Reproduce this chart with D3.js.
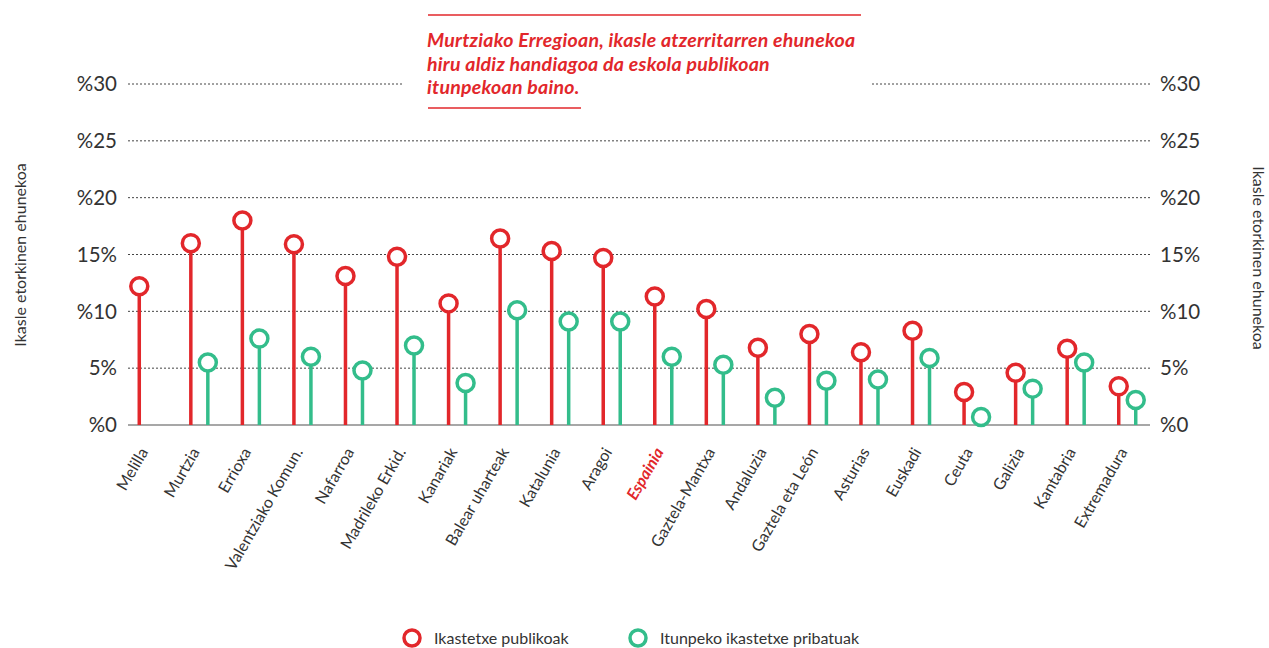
<!DOCTYPE html>
<html>
<head>
<meta charset="utf-8">
<script src="https://cdn.jsdelivr.net/npm/d3@7"></script>
<style>
  body { margin: 0; background: #fff; }
  svg { font-family: Lato, "Open Sans", sans-serif; }
</style>
</head>
<body>
<div id="chart"></div>
<script>
// data
var regions = ["Melilla", "Murtzia", "Errioxa", "Valentziako Komun.", "Nafarroa", "Madrileko Erkid.",
  "Kanariak", "Balear uharteak", "Katalunia", "Aragoi", "Espainia", "Gaztela-Mantxa", "Andaluzia",
  "Gaztela eta León", "Asturias", "Euskadi", "Ceuta", "Galizia", "Kantabria", "Extremadura"]
var publicVals = [12.2, 16.0, 18.0, 15.9, 13.1, 14.8, 10.7, 16.4, 15.3, 14.7, 11.3, 10.2, 6.8, 8.0, 6.4, 8.3, 2.9, 4.6, 6.7, 3.4]
var privateVals = [null, 5.5, 7.6, 6.0, 4.8, 7.0, 3.7, 10.1, 9.1, 9.1, 6.0, 5.3, 2.4, 3.9, 4.0, 5.9, 0.7, 3.2, 5.5, 2.2]
var yTicks = [0, 5, 10, 15, 20, 25, 30]
var yTickLabels = ["%0", "5%", "%10", "15%", "%20", "%25", "%30"]
var seriesNames = ["Ikastetxe publikoak", "Itunpeko ikastetxe pribatuak"]
var titleLines = ["Murtziako Erregioan, ikasle atzerritarren ehunekoa", "hiru aldiz handiagoa da eskola publikoan", "itunpekoan baino."]
var axisTitle = "Ikasle etorkinen ehunekoa"

var red = "#e2272b", green = "#33bd8b"

var width = 1269, height = 648
var margin = { top: 84, right: 119, bottom: 223, left: 128 }

var svg = d3.select("#chart").append("svg")
  .attr("width", width)
  .attr("height", height)

var x = d3.scaleBand()
  .domain(regions)
  .range([122, 1153])
  .padding(0)

var y = d3.scaleLinear()
  .domain([0, 30])
  .range([height - margin.bottom, margin.top])

// grid lines
svg.append("g").selectAll("line")
  .data(yTicks.filter(function (d) { return d > 0 }))
  .enter().append("line")
  .attr("x1", margin.left)
  .attr("x2", width - margin.right)
  .attr("y1", function (d) { return y(d) })
  .attr("y2", function (d) { return y(d) })
  .attr("stroke", "#444")
  .attr("stroke-width", 1)
  .attr("stroke-dasharray", "2,2")

// baseline
svg.append("line")
  .attr("x1", margin.left).attr("x2", width - margin.right)
  .attr("y1", y(0)).attr("y2", y(0))
  .attr("stroke", "#8a8a8a").attr("stroke-width", 1.5)

// tick labels both sides
svg.append("g").selectAll("text")
  .data(yTicks)
  .enter().append("text")
  .attr("x", 117)
  .attr("y", function (d) { return y(d) })
  .attr("dy", "0.35em")
  .attr("text-anchor", "end")
  .attr("font-size", 20.5)
  .attr("fill", "#333")
  .text(function (d, i) { return yTickLabels[i] })

svg.append("g").selectAll("text")
  .data(yTicks)
  .enter().append("text")
  .attr("x", 1160)
  .attr("y", function (d) { return y(d) })
  .attr("dy", "0.35em")
  .attr("font-size", 20.5)
  .attr("fill", "#333")
  .text(function (d, i) { return yTickLabels[i] })

// axis titles
svg.append("text")
  .attr("transform", "translate(20,255) rotate(-90)")
  .attr("text-anchor", "middle")
  .attr("dy", "0.35em")
  .attr("font-size", 16)
  .attr("fill", "#333")
  .text(axisTitle)

svg.append("text")
  .attr("transform", "translate(1259,258) rotate(90)")
  .attr("text-anchor", "middle")
  .attr("dy", "0.35em")
  .attr("font-size", 16)
  .attr("fill", "#333")
  .text(axisTitle)

// title box (covers the grid)
svg.append("rect")
  .attr("x", 404).attr("y", 14)
  .attr("width", 468).attr("height", 96)
  .attr("fill", "#fff")
svg.append("line")
  .attr("x1", 428).attr("x2", 861).attr("y1", 15).attr("y2", 15)
  .attr("stroke", red).attr("stroke-width", 1.5)
svg.append("line")
  .attr("x1", 428).attr("x2", 581).attr("y1", 108).attr("y2", 108)
  .attr("stroke", red).attr("stroke-width", 1.5)
svg.append("g").selectAll("text")
  .data(titleLines)
  .enter().append("text")
  .attr("x", 427)
  .attr("y", function (d, i) { return 47 + i * 23.5 })
  .attr("font-size", 19.5)
  .attr("font-weight", "bold")
  .attr("font-style", "italic")
  .attr("letter-spacing", 0.25)
  .attr("fill", red)
  .text(function (d) { return d })

// lollipops
var off = 8.5
function drawSeries(vals, color, dx) {
  var data = regions.map(function (r, i) { return { region: r, value: vals[i] } })
    .filter(function (d) { return d.value !== null })
  var g = svg.append("g")
  g.selectAll("line")
    .data(data)
    .enter().append("line")
    .attr("x1", function (d) { return x(d.region) + x.bandwidth() / 2 + dx })
    .attr("x2", function (d) { return x(d.region) + x.bandwidth() / 2 + dx })
    .attr("y1", y(0))
    .attr("y2", function (d) { return y(d.value) })
    .attr("stroke", color)
    .attr("stroke-width", 3.5)
  g.selectAll("circle")
    .data(data)
    .enter().append("circle")
    .attr("cx", function (d) { return x(d.region) + x.bandwidth() / 2 + dx })
    .attr("cy", function (d) { return y(d.value) })
    .attr("r", 8.5)
    .attr("fill", "#fff")
    .attr("stroke", color)
    .attr("stroke-width", 3.5)
}
drawSeries(publicVals, red, -off)
drawSeries(privateVals, green, off)

// category labels
svg.append("g").selectAll("text")
  .data(regions)
  .enter().append("text")
  .attr("transform", function (d) {
    return "translate(" + (x(d) + x.bandwidth() / 2 - 4) + "," + 449 + ") rotate(-60)"
  })
  .attr("text-anchor", "end")
  .attr("dy", "0.35em")
  .attr("font-size", 16)
  .attr("fill", function (d) { return d === "Espainia" ? red : "#333" })
  .attr("font-weight", function (d) { return d === "Espainia" ? "bold" : "normal" })
  .attr("font-style", function (d) { return d === "Espainia" ? "italic" : "normal" })
  .text(function (d) { return d })

// legend
var legend = svg.append("g")
var legendX = [412, 638]
seriesNames.forEach(function (name, i) {
  legend.append("circle")
    .attr("cx", legendX[i]).attr("cy", 638).attr("r", 8)
    .attr("fill", "#fff")
    .attr("stroke", i === 0 ? red : green)
    .attr("stroke-width", 3.5)
  legend.append("text")
    .attr("x", legendX[i] + 22).attr("y", 638)
    .attr("dy", "0.35em")
    .attr("font-size", 16)
    .attr("fill", "#333")
    .text(name)
})
</script>
</body>
</html>
